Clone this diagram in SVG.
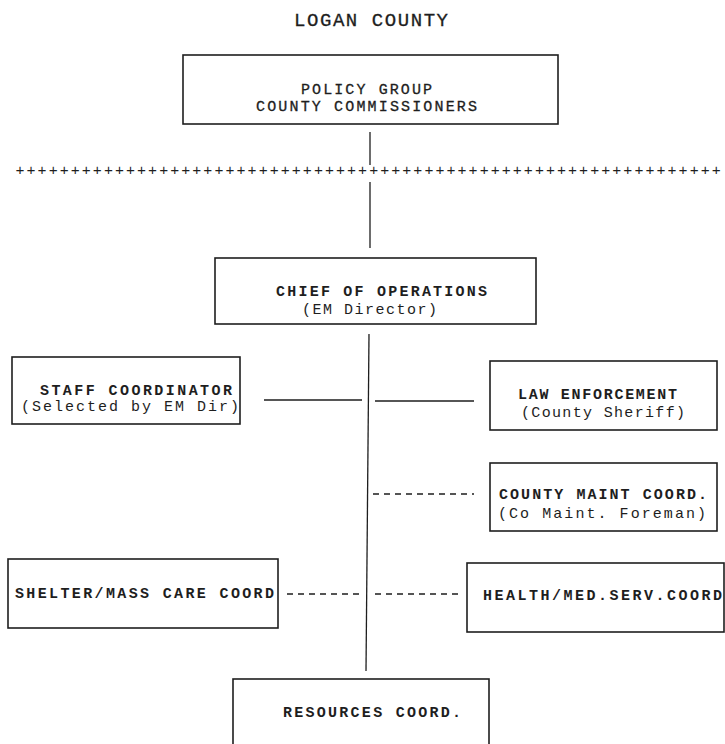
<svg xmlns="http://www.w3.org/2000/svg" width="725" height="744" viewBox="0 0 725 744">
<style>
  .box { fill: none; stroke: #1e1e1e; stroke-width: 1.6; }
  .ln { fill: none; stroke: #1e1e1e; stroke-width: 1.3; }
  .dash { fill: none; stroke: #1e1e1e; stroke-width: 1.3; stroke-dasharray: 6 5; }
  text { font-family: "Liberation Mono", "DejaVu Sans Mono", monospace; fill: #1e1e1e; font-size: 15px; }
  .b { font-weight: bold; }
  .m { stroke: #1e1e1e; stroke-width: 0.3; }
  .title { font-size: 19px; stroke: #1e1e1e; stroke-width: 0.3; }
  .plus { font-size: 15px; letter-spacing: 2.05px; }
</style>
<rect width="725" height="744" fill="#ffffff"/>
<text class="title" x="294" y="26" textLength="154" lengthAdjust="spacing">LOGAN COUNTY</text>
<text class="plus" x="15.5" y="175">++++++++++++++++++++++++++++++++++++++++++++++++++++++++++++++++</text>
<g id="connectors">
  <line class="ln" x1="370" y1="132" x2="370" y2="165"/>
  <line class="ln" x1="370" y1="182" x2="370" y2="248"/>
  <line class="ln" x1="369" y1="334" x2="366" y2="671"/>
  <line class="ln" x1="264" y1="400" x2="362" y2="400"/>
  <line class="ln" x1="375" y1="401" x2="474" y2="401"/>
  <line class="dash" x1="373" y1="494" x2="474" y2="494"/>
  <line class="dash" x1="287" y1="594" x2="362" y2="594"/>
  <line class="dash" x1="375" y1="594" x2="461" y2="594"/>
</g>
<g id="policy">
  <rect class="box" x="183" y="55" width="375" height="69"/>
  <text class="m" x="301" y="94" textLength="131" lengthAdjust="spacing">POLICY GROUP</text>
  <text class="m" x="256" y="111" textLength="221" lengthAdjust="spacing">COUNTY COMMISSIONERS</text>
</g>
<g id="chief">
  <rect class="box" x="215" y="258" width="321" height="66"/>
  <text class="b" x="276" y="296" textLength="211" lengthAdjust="spacing">CHIEF OF OPERATIONS</text>
  <text x="302" y="314" textLength="135" lengthAdjust="spacing">(EM Director)</text>
</g>
<g id="staff">
  <rect class="box" x="12" y="357" width="228" height="67"/>
  <text class="b" x="40" y="395" textLength="192" lengthAdjust="spacing">STAFF COORDINATOR</text>
  <text x="21" y="411" textLength="218" lengthAdjust="spacing">(Selected by EM Dir)</text>
</g>
<g id="law">
  <rect class="box" x="490" y="361" width="227" height="69"/>
  <text class="b" x="518" y="399" textLength="159" lengthAdjust="spacing">LAW ENFORCEMENT</text>
  <text x="521" y="417" textLength="164" lengthAdjust="spacing">(County Sheriff)</text>
</g>
<g id="maint">
  <rect class="box" x="490" y="463" width="227" height="68"/>
  <text class="b" x="499" y="499" textLength="208" lengthAdjust="spacing">COUNTY MAINT COORD.</text>
  <text x="498" y="518" textLength="208" lengthAdjust="spacing">(Co Maint. Foreman)</text>
</g>
<g id="shelter">
  <rect class="box" x="8" y="559" width="270" height="69"/>
  <text class="b" x="15" y="598" textLength="259" lengthAdjust="spacing">SHELTER/MASS CARE COORD</text>
</g>
<g id="health">
  <rect class="box" x="467" y="563" width="257" height="69"/>
  <text class="b" x="483" y="600" textLength="239" lengthAdjust="spacing">HEALTH/MED.SERV.COORD</text>
</g>
<g id="resources">
  <rect class="box" x="233" y="679" width="256" height="80"/>
  <text class="b" x="283" y="717" textLength="178" lengthAdjust="spacing">RESOURCES COORD.</text>
</g>
</svg>
